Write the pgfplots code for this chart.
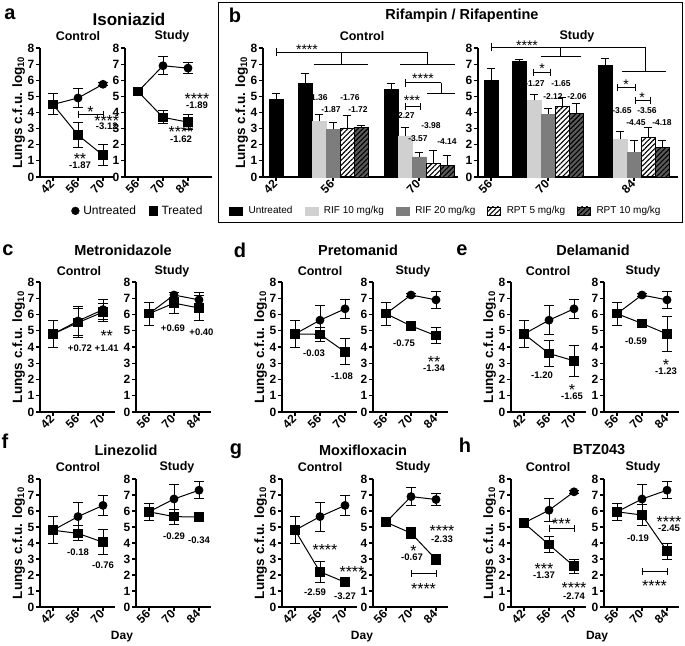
\documentclass[border=0pt]{standalone}
\usepackage{fontspec}
\setmainfont{Liberation Sans}
\usepackage{pgfplots}
\pgfplotsset{compat=1.18}
\usetikzlibrary{patterns,patterns.meta}
\definecolor{lg}{RGB}{208,208,208}
\definecolor{mg}{RGB}{125,125,125}
\definecolor{dg}{RGB}{90,90,90}
\newcommand\fs[1]{\fontsize{#1}{#1}\selectfont}
\newcommand\tn[4]{\node[font=#4, inner sep=0pt] at (#1pt,645pt-#2pt) {#3};}
\newcommand\nm[3]{\node[font=\bfseries\fs{9.5}, inner sep=0pt] at (axis cs:#1,#2) {#3};}
\newcommand\bnm[3]{\node[font=\bfseries\fs{8.5}, inner sep=0pt] at (axis cs:#1,#2) {#3};}
\newcommand\stars[3]{\node[font=\fs{16}, inner sep=0pt] at (axis cs:#1,#2) {\raisebox{-0.43em}[0.3em][0pt]{#3}};}
\newcommand\bstars[3]{\node[font=\fs{14}, inner sep=0pt] at (axis cs:#1,#2) {\raisebox{-0.43em}[0.3em][0pt]{#3}};}
\newcommand\brk[3]{\draw[line width=1pt] (axis cs:#1,#3) -- (axis cs:#2,#3);
  \draw[line width=1pt] ([yshift=3.5pt]axis cs:#1,#3) -- ([yshift=-3.5pt]axis cs:#1,#3);
  \draw[line width=1pt] ([yshift=3.5pt]axis cs:#2,#3) -- ([yshift=-3.5pt]axis cs:#2,#3);}
\tikzset{hatch/.style={pattern={Lines[angle=45,distance=3.5pt,line width=1.1pt]}, pattern color=black}}
\pgfplotsset{
  gp/.style={
    scale only axis, anchor=south west, clip=false,
    axis x line*=bottom, axis y line*=left,
    axis line style={line width=1.5pt, black},
    ymin=0, ymax=8, ytick={0,1,...,8},
    tick align=outside, major tick length=4pt,
    tick style={line width=1.2pt, black},
    /pgf/number format/assume math mode=true,
    ticklabel style={font=\bfseries\fs{12}},
    yticklabel style={inner sep=1.5pt},
    xticklabel style={rotate=45, anchor=east, inner sep=1pt},
    ylabel style={font=\bfseries\fs{13.5}, inner sep=1pt},
  },
  yl/.style={ylabel={Lungs c.f.u. log\textsubscript{10}}},
  lax/.style={gp, xmin=-0.52, xmax=2.48, xtick={0,1,2}, width=75pt},
  eb/.style={error bars/y dir=both, error bars/y explicit,
     error bars/error bar style={line width=1pt, black},
     error bars/error mark options={rotate=90, line width=1pt, mark size=5pt, black}},
  ebp/.style={error bars/y dir=plus, error bars/y explicit,
     error bars/error bar style={line width=1pt, black},
     error bars/error mark options={rotate=90, line width=1pt, mark size=4.3pt, black}},
  unt/.style={forget plot, black, line width=1pt, mark=*, mark size=3.9pt, mark options={solid, fill=black}, eb},
  trt/.style={forget plot, black, line width=1pt, mark=square*, mark size=4.3pt, mark options={solid, fill=black}, eb},
  bx/.style={forget plot, ybar, bar width=14, bar shift=0pt, draw=black, line width=0.5pt, ebp},
}
\begin{document}
\begin{tikzpicture}
\useasboundingbox (0,0) rectangle (685pt,645pt);
% ---------- titles ----------
\tn{10}{14}{a}{\bfseries\fs{20}}
\tn{129}{19}{Isoniazid}{\bfseries\fs{17}}
\tn{78}{36}{Control}{\bfseries\fs{12.5}}
\tn{172}{36}{Study}{\bfseries\fs{12.5}}
\tn{235}{15}{b}{\bfseries\fs{20}}
\tn{462}{16}{Rifampin / Rifapentine}{\bfseries\fs{14.5}}
\tn{362}{36}{Control}{\bfseries\fs{12.5}}
\tn{577}{36}{Study}{\bfseries\fs{12.5}}
\draw[line width=1pt] (218pt,645pt-3pt) rectangle (682pt,645pt-223pt);
\tn{8}{250}{c}{\bfseries\fs{20}}
\tn{123}{250}{Metronidazole}{\bfseries\fs{14.5}}
\tn{79}{271}{Control}{\bfseries\fs{12.5}}
\tn{172}{271}{Study}{\bfseries\fs{12.5}}
\tn{240}{250}{d}{\bfseries\fs{20}}
\tn{358}{250}{Pretomanid}{\bfseries\fs{14.5}}
\tn{320}{271}{Control}{\bfseries\fs{12.5}}
\tn{413}{271}{Study}{\bfseries\fs{12.5}}
\tn{462}{250}{e}{\bfseries\fs{20}}
\tn{593}{250}{Delamanid}{\bfseries\fs{14.5}}
\tn{548}{271}{Control}{\bfseries\fs{12.5}}
\tn{643}{271}{Study}{\bfseries\fs{12.5}}
\tn{5}{441}{f}{\bfseries\fs{20}}
\tn{126}{450}{Linezolid}{\bfseries\fs{14.5}}
\tn{78}{467}{Control}{\bfseries\fs{12.5}}
\tn{177}{467}{Study}{\bfseries\fs{12.5}}
\tn{236}{451}{g}{\bfseries\fs{20}}
\tn{363}{450}{Moxifloxacin}{\bfseries\fs{14.5}}
\tn{320}{467}{Control}{\bfseries\fs{12.5}}
\tn{413}{467}{Study}{\bfseries\fs{12.5}}
\tn{465}{445}{h}{\bfseries\fs{20}}
\tn{599}{450}{BTZ043}{\bfseries\fs{14.5}}
\tn{548}{467}{Control}{\bfseries\fs{12.5}}
\tn{643}{467}{Study}{\bfseries\fs{12.5}}
\tn{122}{637}{Day}{\bfseries\fs{12}}
\tn{362}{637}{Day}{\bfseries\fs{12}}
\tn{597}{637}{Day}{\bfseries\fs{12}}
% ---------- panel a ----------
\begin{axis}[lax, yl, at={(40pt,468pt)}, width=73pt, height=129pt, xmax=2.4, xticklabels={42,56,70},
  legend style={draw=none, fill=none, at={(axis cs:3.4,-2.1)}, anchor=center, legend columns=2, font=\fs{12},
   /tikz/every odd column/.append style={column sep=2pt},
   /tikz/every even column/.append style={column sep=11pt}}]
\addlegendimage{only marks, mark=*, mark size=3.9pt, black}\addlegendentry{Untreated}
\addlegendimage{only marks, mark=square*, mark size=4.3pt, black}\addlegendentry{Treated}
\addplot[unt] coordinates {(0,4.5) +- (0,0.65) (1,4.9) +- (0,0.6) (2,5.75) +- (0,0.1)};
\addplot[trt] coordinates {(0,4.5) +- (0,0.65) (1,2.6) +- (0,0.8) (2,1.35) +- (0,0.65)};
\brk{1}{2}{3.85}
\stars{1.5}{4.25}{*}
\stars{2.15}{3.72}{****}
\nm{2.15}{3.15}{-3.12}
\stars{1.08}{1.35}{**}
\nm{1.08}{0.7}{-1.87}
\end{axis}
\begin{axis}[lax, at={(125pt,468pt)}, width=87pt, height=129pt, xmax=2.96, xticklabels={56,70,84}]
\addplot[unt] coordinates {(0,5.3) +- (0,0.1) (1,6.9) +- (0,0.55) (2,6.75) +- (0,0.35)};
\addplot[trt] coordinates {(0,5.3) +- (0,0.1) (1,3.7) +- (0,0.4) (2,3.4) +- (0,0.45)};
\stars{2.36}{5.05}{****}
\nm{2.36}{4.45}{-1.89}
\stars{1.72}{3.0}{****}
\nm{1.72}{2.35}{-1.62}
\end{axis}
% ---------- panel b control ----------
\begin{axis}[gp, yl, at={(263pt,468pt)}, width=195pt, height=129pt, xmin=263, xmax=458,
  xtick={276,333,419}, xticklabels={42,56,70},
  legend style={draw=none, fill=none, at={(axis cs:226,-2.1)}, anchor=west, legend columns=5, font=\fs{10},
   /tikz/every odd column/.append style={column sep=4pt},
   /tikz/every even column/.append style={column sep=10pt}}]
\addlegendimage{legend image code/.code={\fill[black] (0pt,-4pt) rectangle (13pt,4pt);}}\addlegendentry{Untreated}
\addlegendimage{legend image code/.code={\fill[lg] (0pt,-4pt) rectangle (13pt,4pt);}}\addlegendentry{RIF 10 mg/kg}
\addlegendimage{legend image code/.code={\fill[mg] (0pt,-4pt) rectangle (13pt,4pt);}}\addlegendentry{RIF 20 mg/kg}
\addlegendimage{legend image code/.code={\path[hatch] (0pt,-4pt) rectangle (13pt,4pt);}}\addlegendentry{RPT 5 mg/kg}
\addlegendimage{legend image code/.code={\fill[dg] (0pt,-4pt) rectangle (13pt,4pt);\path[hatch] (0pt,-4pt) rectangle (13pt,4pt);}}\addlegendentry{RPT 10 mg/kg}
\addplot[bx, fill=black] coordinates {(276,4.8) +- (0,0.35) (305,5.8) +- (0,0.62) (391,5.45) +- (0,0.35)};
\addplot[bx, fill=lg, draw=lg] coordinates {(319,3.45) +- (0,0.4) (405,2.55) +- (0,0.5)};
\addplot[bx, fill=mg, draw=mg] coordinates {(333,2.95) +- (0,0.4) (419,1.25) +- (0,0.3)};
\addplot[bx, hatch] coordinates {(347,3.05) +- (0,0.75) (433,0.85) +- (0,0.8)};
\addplot[forget plot, ybar, bar width=14, bar shift=0pt, fill=dg, draw=none] coordinates {(361,3.1) (447,0.7)};
\addplot[bx, hatch] coordinates {(361,3.1) +- (0,0.1) (447,0.7) +- (0,0.65)};
\draw[line width=1pt] (axis cs:276,7.75) -- (axis cs:427,7.75);
\draw[line width=1pt] (axis cs:276,7.5) -- (axis cs:276,8.0);
\draw[line width=1pt] (axis cs:341,7.75) -- (axis cs:341,7.0);
\draw[line width=1pt] (axis cs:314,7.0) -- (axis cs:368,7.0);
\draw[line width=1pt] (axis cs:427,7.75) -- (axis cs:427,7.0);
\draw[line width=1pt] (axis cs:400,7.0) -- (axis cs:455,7.0);
\bstars{307}{8.1}{****}
\draw[line width=1pt] (axis cs:405,5.85) -- (axis cs:441,5.85);
\draw[line width=1pt] (axis cs:405,5.6) -- (axis cs:405,6.1);
\draw[line width=1pt] (axis cs:441,5.85) -- (axis cs:441,5.15);
\draw[line width=1pt] (axis cs:427,5.15) -- (axis cs:455,5.15);
\bstars{423}{6.3}{****}
\brk{405}{420}{4.35}
\bstars{412}{4.95}{***}
\bnm{318}{4.9}{-1.36}
\bnm{350}{4.9}{-1.76}
\bnm{331}{4.2}{-1.87}
\bnm{358}{4.2}{-1.72}
\bnm{405}{3.8}{-2.27}
\bnm{431}{3.2}{-3.98}
\bnm{418}{2.4}{-3.57}
\bnm{447}{2.2}{-4.14}
\end{axis}
% ---------- panel b study ----------
\begin{axis}[gp, at={(478pt,468pt)}, width=200pt, height=129pt, xmin=478, xmax=678,
  xtick={491,548,634}, xticklabels={56,70,84}]
\addplot[bx, fill=black] coordinates {(491,6.0) +- (0,0.7) (519,7.15) +- (0,0.15) (605,6.9) +- (0,0.45)};
\addplot[bx, fill=lg, draw=lg] coordinates {(534,4.75) +- (0,0.35) (620,2.35) +- (0,0.45)};
\addplot[bx, fill=mg, draw=mg] coordinates {(548,3.9) +- (0,0.35) (634,1.55) +- (0,0.7)};
\addplot[bx, hatch] coordinates {(562,4.4) +- (0,0.55) (648,2.45) +- (0,0.6)};
\addplot[forget plot, ybar, bar width=14, bar shift=0pt, fill=dg, draw=none] coordinates {(576,3.95) (662,1.85)};
\addplot[bx, hatch] coordinates {(576,3.95) +- (0,0.6) (662,1.85) +- (0,0.4)};
\draw[line width=1pt] (axis cs:491,8.05) -- (axis cs:645,8.05);
\draw[line width=1pt] (axis cs:491,7.8) -- (axis cs:491,8.3);
\draw[line width=1pt] (axis cs:560,8.05) -- (axis cs:560,7.5);
\draw[line width=1pt] (axis cs:541,7.5) -- (axis cs:581,7.5);
\draw[line width=1pt] (axis cs:645,8.05) -- (axis cs:645,6.55);
\draw[line width=1pt] (axis cs:622,6.55) -- (axis cs:666,6.55);
\bstars{527}{8.35}{****}
\brk{533}{550}{6.5}
\bstars{542}{6.9}{*}
\brk{617}{635}{5.55}
\bstars{626}{5.92}{*}
\brk{635}{650}{4.75}
\bstars{642}{5.12}{*}
\bnm{535}{5.8}{-1.27}
\bnm{561}{5.8}{-1.65}
\bnm{553}{5.0}{-2.12}
\bnm{577}{5.0}{-2.06}
\bnm{622}{4.1}{-3.65}
\bnm{647}{4.1}{-3.56}
\bnm{636}{3.37}{-4.45}
\bnm{662}{3.37}{-4.18}
\end{axis}
% ---------- panel c ----------
\begin{axis}[lax, yl, at={(40pt,233pt)}, height=130pt, xticklabels={42,56,70}]
\addplot[unt] coordinates {(0,4.8) +- (0,0.85) (1,5.6) +- (0,0.9) (2,6.3) +- (0,0.6)};
\addplot[trt] coordinates {(0,4.8) +- (0,0.85) (1,5.5) +- (0,0.9) (2,6.15) +- (0,0.55)};
\nm{1.08}{3.95}{+0.72}
\stars{2.15}{4.9}{**}
\nm{2.15}{3.95}{+1.41}
\end{axis}
\begin{axis}[lax, at={(136pt,233pt)}, height=130pt, xticklabels={56,70,84}]
\addplot[unt] coordinates {(0,6.05) +- (0,0.7) (1,7.2) +- (0,0.15) (2,6.9) +- (0,0.45)};
\addplot[trt] coordinates {(0,6.05) +- (0,0.7) (1,6.7) +- (0,0.65) (2,6.4) +- (0,0.75)};
\nm{0.96}{5.15}{+0.69}
\nm{2.1}{4.9}{+0.40}
\end{axis}
% ---------- panel d ----------
\begin{axis}[lax, yl, at={(282pt,233pt)}, height=130pt, xticklabels={42,56,70}]
\addplot[unt] coordinates {(0,4.8) +- (0,0.85) (1,5.65) +- (0,0.9) (2,6.35) +- (0,0.6)};
\addplot[trt] coordinates {(0,4.8) +- (0,0.85) (1,4.78) +- (0,0.45) (2,3.7) +- (0,0.8)};
\nm{0.76}{3.64}{-0.03}
\nm{1.88}{2.18}{-1.08}
\end{axis}
\begin{axis}[lax, at={(373pt,233pt)}, height=130pt, xticklabels={56,70,84}]
\addplot[unt] coordinates {(0,6.05) +- (0,0.7) (1,7.2) +- (0,0.1) (2,6.9) +- (0,0.5)};
\addplot[trt] coordinates {(0,6.05) +- (0,0.7) (1,5.3) +- (0,0.1) (2,4.7) +- (0,0.5)};
\nm{0.72}{4.26}{-0.75}
\stars{1.92}{3.33}{**}
\nm{1.92}{2.7}{-1.34}
\end{axis}
% ---------- panel e ----------
\begin{axis}[lax, yl, at={(511pt,233pt)}, height=130pt, xticklabels={42,56,70}]
\addplot[unt] coordinates {(0,4.8) +- (0,0.85) (1,5.65) +- (0,0.9) (2,6.35) +- (0,0.6)};
\addplot[trt] coordinates {(0,4.8) +- (0,0.85) (1,3.6) +- (0,0.78) (2,3.15) +- (0,0.95)};
\nm{0.72}{2.25}{-1.20}
\stars{1.92}{1.56}{*}
\nm{1.92}{0.94}{-1.65}
\end{axis}
\begin{axis}[lax, at={(604pt,233pt)}, height=130pt, xticklabels={56,70,84}]
\addplot[unt] coordinates {(0,6.05) +- (0,0.7) (1,7.2) +- (0,0.1) (2,6.9) +- (0,0.5)};
\addplot[trt] coordinates {(0,6.05) +- (0,0.7) (1,5.45) +- (0,0.12) (2,4.8) +- (0,1.1)};
\nm{0.76}{4.37}{-0.59}
\stars{1.96}{3.12}{*}
\nm{1.96}{2.5}{-1.23}
\end{axis}
% ---------- panel f ----------
\begin{axis}[lax, yl, at={(40pt,38pt)}, height=128pt, xticklabels={42,56,70}]
\addplot[unt] coordinates {(0,4.8) +- (0,0.85) (1,5.65) +- (0,0.9) (2,6.35) +- (0,0.6)};
\addplot[trt] coordinates {(0,4.8) +- (0,0.85) (1,4.6) +- (0,0.47) (2,4.05) +- (0,0.77)};
\nm{1.0}{3.43}{-0.18}
\nm{2.0}{2.64}{-0.76}
\end{axis}
\begin{axis}[lax, at={(136pt,38pt)}, height=128pt, xticklabels={56,70,84}]
\addplot[unt] coordinates {(0,5.95) +- (0,0.52) (1,6.75) +- (0,0.88) (2,7.3) +- (0,0.54)};
\addplot[trt] coordinates {(0,5.95) +- (0,0.52) (1,5.65) +- (0,0.47) (2,5.62) +- (0,0.06)};
\nm{1.0}{4.45}{-0.29}
\nm{2.0}{4.16}{-0.34}
\end{axis}
% ---------- panel g ----------
\begin{axis}[lax, yl, at={(282pt,38pt)}, height=128pt, xticklabels={42,56,70}]
\addplot[unt] coordinates {(0,4.8) +- (0,0.85) (1,5.65) +- (0,0.9) (2,6.35) +- (0,0.6)};
\addplot[trt] coordinates {(0,4.8) +- (0,0.85) (1,2.2) +- (0,0.65) (2,1.55) +- (0,0.1)};
\stars{1.2}{3.78}{****}
\stars{2.28}{2.43}{****}
\nm{0.8}{0.94}{-2.59}
\nm{2.0}{0.67}{-3.27}
\end{axis}
\begin{axis}[lax, at={(373pt,38pt)}, height=128pt, xticklabels={56,70,84}]
\addplot[unt] coordinates {(0,5.3) +- (0,0.1) (1,6.9) +- (0,0.55) (2,6.72) +- (0,0.35)};
\addplot[trt] coordinates {(0,5.3) +- (0,0.1) (1,4.62) +- (0,0.35) (2,2.97) +- (0,0.33)};
\stars{2.24}{4.99}{****}
\nm{2.24}{4.26}{-2.33}
\stars{1.1}{3.74}{*}
\nm{1.04}{3.12}{-0.67}
\brk{1}{2}{2.1}
\stars{1.5}{1.39}{****}
\end{axis}
% ---------- panel h ----------
\begin{axis}[lax, yl, at={(511pt,38pt)}, height=128pt, xticklabels={42,56,70}]
\addplot[unt] coordinates {(0,5.25) +- (0,0.3) (1,6.05) +- (0,0.72) (2,7.2) +- (0,0.1)};
\addplot[trt] coordinates {(0,5.25) +- (0,0.3) (1,3.9) +- (0,0.52) (2,2.55) +- (0,0.44)};
\brk{1}{2}{4.93}
\stars{1.5}{5.45}{***}
\stars{0.8}{2.62}{***}
\nm{0.8}{2.0}{-1.37}
\stars{2.0}{1.43}{****}
\nm{2.0}{0.7}{-2.74}
\end{axis}
\begin{axis}[lax, at={(604pt,38pt)}, height=128pt, xticklabels={56,70,84}]
\addplot[unt] coordinates {(0,5.95) +- (0,0.52) (1,6.75) +- (0,0.9) (2,7.3) +- (0,0.54)};
\addplot[trt] coordinates {(0,5.95) +- (0,0.52) (1,5.75) +- (0,0.65) (2,3.5) +- (0,0.5)};
\stars{2.08}{5.55}{****}
\nm{2.08}{4.93}{-2.45}
\nm{0.84}{4.3}{-0.19}
\brk{1}{2}{2.22}
\stars{1.5}{1.54}{****}
\end{axis}
\end{tikzpicture}
\end{document}
